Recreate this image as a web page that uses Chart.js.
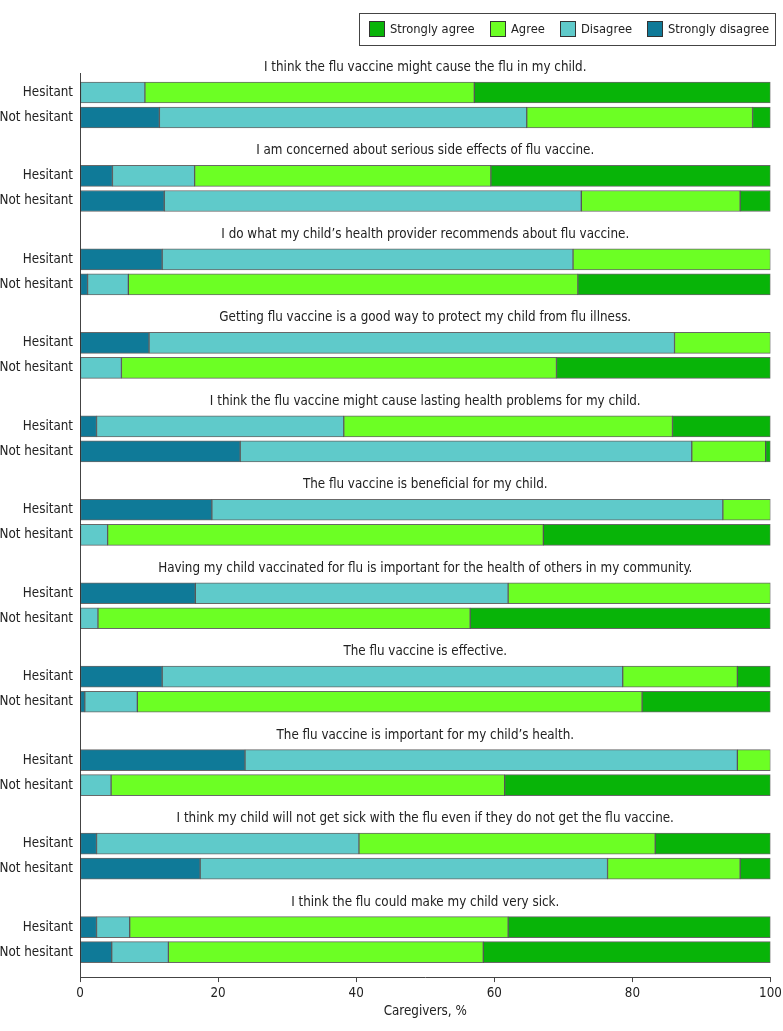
<!DOCTYPE html>
<html>
<head>
<meta charset="utf-8">
<title>Flu vaccine attitudes</title>
<script src="https://cdn.jsdelivr.net/npm/chart.js@4.4.0/dist/chart.umd.min.js"></script>
<style>
  html, body { margin: 0; padding: 0; background: #fff; }
  #wrap { width: 783px; height: 1031px; position: relative; }
</style>
</head>
<body>
<div id="wrap"><canvas id="mycanvas"></canvas></div>
<script>
var statements = [
  'I think the flu vaccine might cause the flu in my child.',
  'I am concerned about serious side effects of flu vaccine.',
  'I do what my child\u2019s health provider recommends about flu vaccine.',
  'Getting flu vaccine is a good way to protect my child from flu illness.',
  'I think the flu vaccine might cause lasting health problems for my child.',
  'The flu vaccine is beneficial for my child.',
  'Having my child vaccinated for flu is important for the health of others in my community.',
  'The flu vaccine is effective.',
  'The flu vaccine is important for my child\u2019s health.',
  'I think my child will not get sick with the flu even if they do not get the flu vaccine.',
  'I think the flu could make my child very sick.'
];
var groups = ['Hesitant', 'Not hesitant'];

/* each pair is [hesitant, not hesitant], in % of caregivers */
var stronglyDisagree = [[0, 11.5], [4.7, 12.2], [11.9, 1.1], [10.0, 0], [2.4, 23.2], [19.1, 0],
                        [16.7, 0], [11.9, 0.7], [23.9, 0], [2.4, 17.4], [2.4, 4.6]];
var disagree         = [[9.4, 53.2], [11.9, 60.4], [59.5, 5.9], [76.1, 6.0], [35.8, 65.4], [74.0, 4.0],
                        [45.3, 2.6], [66.7, 7.6], [71.3, 4.5], [38.0, 59.0], [4.8, 8.2]];
var agree            = [[47.7, 32.7], [42.9, 23.0], [28.6, 65.1], [13.9, 63.0], [47.6, 10.7], [6.9, 63.1],
                        [38.0, 53.9], [16.6, 73.1], [4.8, 57.0], [42.9, 19.2], [54.8, 45.6]];
var stronglyAgree    = [[42.9, 2.6], [40.5, 4.4], [0, 27.9], [0, 31.0], [14.2, 0.7], [0, 32.9],
                        [0, 43.5], [4.8, 18.6], [0, 38.5], [16.7, 4.4], [38.0, 41.6]];
var xTicks = [0, 20, 40, 60, 80, 100];

var seriesNames = ['Strongly disagree', 'Disagree', 'Agree', 'Strongly agree'];
var seriesColors = ['#0f7a98', '#5fcaca', '#6cff24', '#08b408'];
var seriesValues = [stronglyDisagree, disagree, agree, stronglyAgree];

var rowGap = 0.3;   /* distance between rows inside one statement block */
var FONT = "'DejaVu Sans Condensed', 'Liberation Sans Narrow', 'Noto Sans', sans-serif";
var FSIZE = 13.3;

/* y position of each bar, one statement block per unit */
var barRows = [];
for (var i = 0; i < statements.length; i++) {
  barRows.push(i);
  barRows.push(i + rowGap);
}

var datasets = [];
for (var s = 0; s < seriesNames.length; s++) {
  var pts = [];
  for (var i = 0; i < statements.length; i++) {
    pts.push({ x: seriesValues[s][i][0], y: i });
    pts.push({ x: seriesValues[s][i][1], y: i + rowGap });
  }
  datasets.push({
    label: seriesNames[s],
    data: pts,
    backgroundColor: seriesColors[s],
    borderColor: 'rgba(40,40,40,0.7)',
    borderWidth: 1,
    borderSkipped: false,
    barThickness: 21
  });
}

/* statement headings above every pair of bars */
var headingPlugin = {
  id: 'headings',
  afterDraw: function(chart) {
    var ctx = chart.ctx;
    var area = chart.chartArea;
    var yScale = chart.scales.y;
    ctx.save();
    ctx.font = FSIZE + 'px ' + FONT;
    ctx.fillStyle = '#222';
    ctx.textAlign = 'center';
    ctx.textBaseline = 'middle';
    for (var i = 0; i < statements.length; i++) {
      ctx.fillText(statements[i], (area.left + area.right) / 2, yScale.getPixelForValue(i - rowGap));
    }
    ctx.restore();
  }
};

/* boxed legend in the top right corner */
var legendPlugin = {
  id: 'boxLegend',
  afterDraw: function(chart) {
    var ctx = chart.ctx;
    var ds = chart.data.datasets.slice().reverse();
    var gap = 15;
    ctx.save();
    ctx.font = '12.8px ' + FONT;
    var widths = ds.map(function(d) { return ctx.measureText(d.label).width; });
    var total = 9;
    for (var k = 0; k < ds.length; k++) total += 16 + 5 + widths[k] + (k < ds.length - 1 ? gap : 8);
    var right = 775.5, top = 13.5, h = 32;
    var left = Math.round(right - total) + 0.5;
    ctx.strokeStyle = '#444';
    ctx.lineWidth = 1;
    ctx.strokeRect(left, top, right - left, h);
    var x = Math.round(left + 9);
    for (var k = 0; k < ds.length; k++) {
      ctx.fillStyle = ds[k].backgroundColor;
      ctx.fillRect(x, 21, 16, 16);
      ctx.strokeStyle = '#333';
      ctx.strokeRect(x + 0.5, 21.5, 15, 15);
      ctx.fillStyle = '#222';
      ctx.textAlign = 'left';
      ctx.textBaseline = 'middle';
      ctx.fillText(ds[k].label, x + 21, 30);
      x += Math.round(21 + widths[k] + gap);
    }
    ctx.restore();
  }
};

var ctx = document.getElementById('mycanvas');
var chart = new Chart(ctx, {
  type: 'bar',
  data: { datasets: datasets },
  options: {
    indexAxis: 'y',
    responsive: true,
    maintainAspectRatio: false,
    animation: false,
    layout: { padding: { top: 73, right: 0, bottom: 9, left: 0 } },
    plugins: {
      legend: { display: false },
      tooltip: { enabled: false }
    },
    scales: {
      x: {
        type: 'linear',
        stacked: true,
        min: 0,
        max: 100,
        afterBuildTicks: function(axis) {
          axis.ticks = xTicks.map(function(v) { return { value: v }; });
        },
        afterFit: function(axis) { axis.paddingRight = 12.5; },
        ticks: { color: '#222', font: { family: FONT, size: FSIZE }, padding: 3 },
        grid: { drawOnChartArea: false, drawTicks: true, tickLength: 5, color: '#444' },
        border: { display: true, color: '#444' },
        title: {
          display: true,
          text: 'Caregivers, %',
          color: '#222',
          font: { family: FONT, size: FSIZE },
          padding: { top: 0, bottom: 2 }
        }
      },
      y: {
        type: 'linear',
        stacked: true,
        reverse: true,
        offset: false,
        min: -0.2334,
        max: 10.599,
        afterBuildTicks: function(axis) {
          axis.ticks = barRows.map(function(v) { return { value: v }; });
        },
        afterFit: function(axis) { axis.width = 80; },
        ticks: {
          autoSkip: false,
          color: '#222',
          font: { family: FONT, size: FSIZE },
          padding: 7,
          callback: function(value, index) { return groups[index % 2]; }
        },
        grid: { display: false, drawTicks: false },
        border: { display: true, color: '#444' }
      }
    }
  },
  plugins: [headingPlugin, legendPlugin]
});
</script>
</body>
</html>
